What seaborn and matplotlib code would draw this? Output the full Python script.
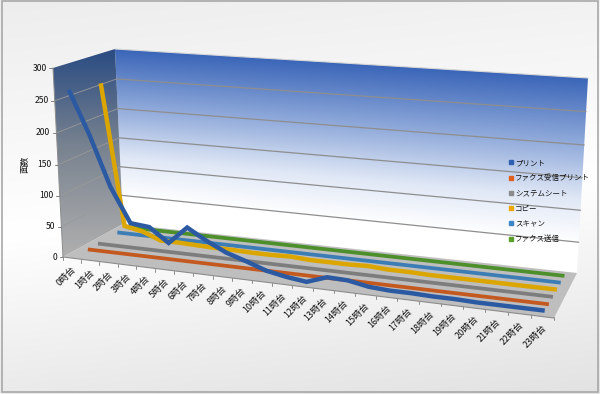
"""Print volume per hour, drawn as a 3D style line chart on a plain seaborn axes."""
import numpy as np
import pandas as pd
import matplotlib
matplotlib.use("Agg")
import matplotlib.pyplot as plt
from matplotlib.lines import Line2D
from matplotlib.patches import Polygon
import seaborn as sns

# Data
HOURS = list(range(24))
HOUR_LABELS = [f"{h}時台" for h in HOURS]
PRINT = [265, 197, 118, 63, 60, 38, 66, 48, 33, 23, 12, 6, 2, 13, 12, 6, 4, 4, 3, 3, 2, 2, 2, 2]
FAX_RECV = [0, 0, 0, 0, 0, 0, 0, 0, 0, 0, 0, 0, 0, 0, 0, 0, 0, 0, 0, 0, 0, 0, 0, 0]
SYSTEM = [0, 0, 0, 0, 0, 0, 0, 0, 0, 0, 0, 0, 0, 0, 0, 0, 0, 0, 0, 0, 0, 0, 0, 0]
COPY = [258, 24, 18, 6, 6, 5, 4, 4, 3, 3, 4, 2, 2, 2, 3, 1, 1, 0, 0, 0, 0, 0, 0, 0]
SCAN = [0, 0, 0, 0, 0, 0, 0, 0, 0, 0, 0, 0, 0, 0, 0, 0, 0, 0, 0, 0, 0, 0, 0, 0]
FAX_SEND = [0, 0, 0, 0, 0, 0, 0, 0, 0, 0, 0, 0, 0, 0, 0, 0, 0, 0, 0, 0, 0, 0, 0, 0]
SERIES_NAMES = ["プリント", "ファクス受信プリント", "システムシート", "コピー", "スキャン", "ファクス送信"]
SERIES_VALUES = [PRINT, FAX_RECV, SYSTEM, COPY, SCAN, FAX_SEND]
SERIES_COLORS = ["#2B5AA3", "#C4591F", "#7D7D7D", "#DCA600", "#3B7DB4", "#4C8F2B"]
LEGEND_COLORS = ["#2F5FB0", "#E0601C", "#8C8C8C", "#F0A800", "#3F86C6", "#5AA02C"]
Y_TICKS = [0, 50, 100, 150, 200, 250, 300]

# Pixel positions of the box corners: (hour frac, value frac, depth frac) -> (x, y)
CORNERS = [
    ((0, 0, 0), (63, 257)), ((1, 0, 0), (554, 318)), ((1, 0, 1), (577, 273)),
    ((0, 0, 1), (123, 224)), ((0, 1, 0), (53, 68)), ((0, 1, 1), (115, 49)),
    ((1, 1, 1), (588, 78)),
]


def fit_projection():
    rows = []
    for (u, v, w), (x, y) in CORNERS:
        rows.append([u, v, w, 1, 0, 0, 0, 0, -x * u, -x * v, -x * w, -x])
        rows.append([0, 0, 0, 0, u, v, w, 1, -y * u, -y * v, -y * w, -y])
    return np.linalg.svd(np.array(rows, dtype=float))[2][-1].reshape(3, 4)


P = fit_projection()


def project(u, v, w):
    """Box fractions to image pixels."""
    u, v, w = np.broadcast_arrays(np.asarray(u, float), np.asarray(v, float), np.asarray(w, float))
    q = P @ np.stack([u.ravel(), v.ravel(), w.ravel(), np.ones(u.size)])
    return q[0] / q[2], q[1] / q[2]


def gradient_fill(ax, pts, stops, frac):
    """Fill polygon pts with colours looked up by frac(x, y)."""
    gx, gy = np.meshgrid(np.arange(600) + 0.5, np.arange(394) + 0.5)
    t = np.clip(frac(gx, gy), 0, 1)
    pos = np.array([s[0] for s in stops])
    rgb = np.array([matplotlib.colors.to_rgb(s[1]) for s in stops])
    img = np.dstack([np.interp(t, pos, rgb[:, i]) for i in range(3)])
    im = ax.imshow(img, extent=(0, 600, 394, 0), aspect="auto", interpolation="bilinear", zorder=1)
    poly = Polygon(pts, closed=True, transform=ax.transData, fc="none", ec="none")
    ax.add_patch(poly)
    im.set_clip_path(poly)


def main():
    sns.set_style("white")
    plt.rcParams["font.family"] = ["Noto Sans CJK JP", "DejaVu Sans"]

    fig = plt.figure(figsize=(6, 3.94), dpi=100)
    ax = fig.add_axes([0, 0, 1, 1])

    # page background
    gradient_fill(ax, [(0, 0), (600, 0), (600, 394), (0, 394)],
                  [(0, "#EDEDED"), (0.52, "#FFFFFF"), (1, "#E2E2E2")],
                  lambda x, y: (y + 0.1 * x) / 454)

    # walls and floor
    fl0, fr0, br0, bl0 = [c[1] for c in CORNERS[:4]]
    fl1, bl1, br1 = [c[1] for c in CORNERS[4:]]

    def top_y(x):
        return bl1[1] + (x - bl1[0]) * (br1[1] - bl1[1]) / (br1[0] - bl1[0])

    def low_y(x):
        return bl0[1] + (x - bl0[0]) * (br0[1] - bl0[1]) / (br0[0] - bl0[0])

    gradient_fill(ax, [bl1, br1, br0, bl0],
                  [(0, "#3A65B8"), (0.33, "#8FA9DA"), (0.62, "#E0E8F6"), (0.85, "#FFFFFF"), (1, "#FFFFFF")],
                  lambda x, y: (y - top_y(x)) / (low_y(x) - top_y(x)))
    gradient_fill(ax, [fl1, bl1, bl0, fl0],
                  [(0, "#2E4E83"), (0.45, "#76818F"), (1, "#ADADAD")],
                  lambda x, y: (y - 55) / 195)
    ax.add_patch(Polygon([fl0, fr0, br0, bl0], closed=True, fc="#BEBEBE", ec="none", zorder=2))
    ax.plot([fl0[0], fr0[0]], [fl0[1], fr0[1]], color="#8C8C8C", lw=0.8, zorder=2.5)
    ax.plot([bl1[0], br1[0]], [bl1[1], br1[1]], color="#D8D8D8", lw=0.8, zorder=2.5)

    # gridlines
    for tick in Y_TICKS[1:-1]:
        v = tick / 300
        gx, gy = project([0, 0, 1], v, [0, 1, 1])
        ax.plot(gx[:2], gy[:2], color="#9A9A9A", lw=0.6, zorder=3)
        ax.plot(gx[1:], gy[1:], color="#8E8E8E", lw=0.9, zorder=3)

    # y axis
    ax.plot([fl0[0], fl1[0]], [fl0[1], fl1[1]], color="#8C8C8C", lw=0.7, zorder=3)
    for tick in Y_TICKS:
        tx, ty = project(0, tick / 300, 0)
        ax.plot([tx[0] - 3.5, tx[0]], [ty[0], ty[0]], color="#7F7F7F", lw=0.7, zorder=3)
        ax.text(tx[0] - 6, ty[0], str(tick), ha="right", va="center", fontsize=6.2, color="#111111", zorder=6)
    ax.text(25, 164, "面数", rotation=90, ha="center", va="center", fontsize=6.2, color="#111111", zorder=6)

    # x axis
    for i in range(25):
        tx, ty = project(i / 24, 0, 0)
        ax.plot([tx[0], tx[0]], [ty[0], ty[0] + 3], color="#8C8C8C", lw=0.7, zorder=3)
    for hour, label in zip(HOURS, HOUR_LABELS):
        tx, ty = project((hour + 0.5) / 24, 0, 0)
        ax.text(tx[0] - 0.5, ty[0] + 7, label, rotation=45, ha="right", va="top",
                rotation_mode="anchor", fontsize=6.5, color="#111111", zorder=6)

    # series, back to front
    for j in reversed(range(len(SERIES_NAMES))):
        df = pd.DataFrame({"hour": HOURS, "value": SERIES_VALUES[j]})
        df["px"], df["py"] = project((df["hour"] + 0.5) / 24, df["value"] / 300, (j + 0.5) / 6)
        sns.lineplot(data=df, x="px", y="py", color=SERIES_COLORS[j], lw=3.2 if j in (0, 3) else 2.7, sort=False,
                     estimator=None, ax=ax, zorder=4, solid_capstyle="butt", solid_joinstyle="miter")

    # legend
    handles = [Line2D([], [], ls="none", marker="s", ms=2.8, color=c) for c in LEGEND_COLORS]
    ax.legend(handles, SERIES_NAMES, loc="upper left", bbox_to_anchor=(507.5 / 600, 1 - 159 / 394),
              frameon=False, fontsize=5.4, labelspacing=0.97, handletextpad=0.0, handlelength=1.0,
              borderpad=0, borderaxespad=0, labelcolor="#111111").set_zorder(7)

    # outer frame
    ax.add_patch(plt.Rectangle((2, 1), 595.5, 390.5, fc="none", ec="#A8A8A8", lw=1.2, zorder=8))

    ax.set_xlim(0, 600)
    ax.set_ylim(394, 0)
    ax.set_xlabel("")
    ax.set_ylabel("")
    ax.axis("off")
    fig.savefig("out.png", dpi=100)


if __name__ == "__main__":
    main()
